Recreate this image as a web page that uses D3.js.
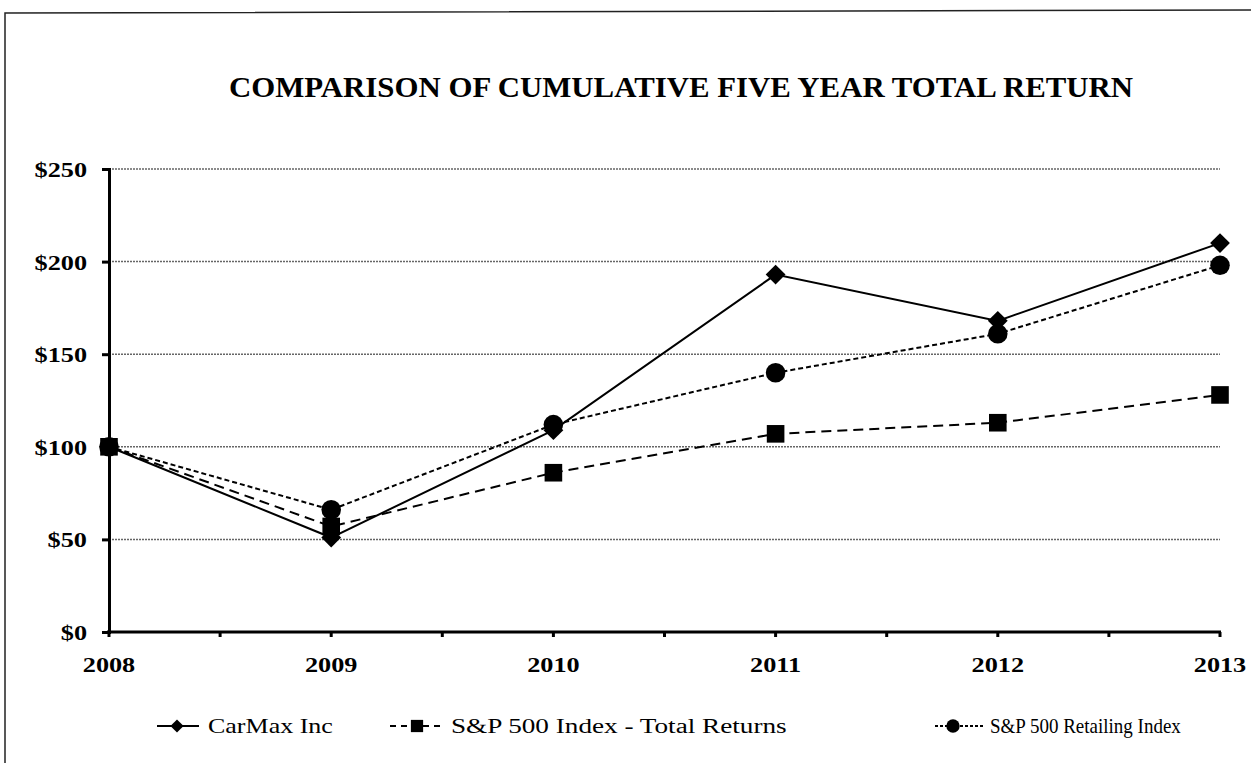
<!DOCTYPE html>
<html>
<head>
<meta charset="utf-8">
<script src="https://cdn.jsdelivr.net/npm/d3@7"></script>
<style>
body { margin: 0; background: #fff; }
svg { display: block; }
</style>
</head>
<body>
<svg width="1251" height="763"></svg>
<script>
var years = ['2008', '2009', '2010', '2011', '2012', '2013'];
var carmax = [100, 51, 109, 193, 168, 210];
var sp500 = [100, 57, 86, 107, 113, 128];
var retailing = [100, 66, 112, 140, 161, 198];
var yTicks = [0, 50, 100, 150, 200, 250];
var seriesNames = ['CarMax Inc', 'S&P 500 Index - Total Returns', 'S&P 500 Retailing Index'];

var svg = d3.select('svg');
var font = "'Liberation Serif', 'Times New Roman', serif";

// outer frame
svg.append('path')
    .attr('d', 'M5,763 L5,13 L1251,10')
    .attr('fill', 'none')
    .attr('stroke', '#222')
    .attr('stroke-width', 1.5);

var scaleX = d3.scalePoint().domain(years).range([109, 1220]);
var scaleY = d3.scaleLinear().domain([0, 250]).range([632, 169]);

svg.append('text')
    .attr('x', 229)
    .attr('y', 97)
    .attr('font-family', font)
    .attr('font-weight', 'bold')
    .attr('font-size', 30)
    .attr('textLength', 904)
    .attr('lengthAdjust', 'spacingAndGlyphs')
    .text('COMPARISON OF CUMULATIVE FIVE YEAR TOTAL RETURN');

// gridlines
svg.append('g')
    .selectAll('line')
    .data(yTicks.slice(1))
    .enter()
    .append('line')
    .attr('x1', 109)
    .attr('x2', 1220)
    .attr('y1', function(d) { return scaleY(d); })
    .attr('y2', function(d) { return scaleY(d); })
    .attr('stroke', '#666')
    .attr('stroke-width', 1.5)
    .attr('stroke-dasharray', '2,1');

// y axis
var yAxis = svg.append('g')
    .attr('transform', 'translate(109,0)')
    .call(d3.axisLeft(scaleY).tickValues(yTicks).tickSize(7).tickFormat(''));
yAxis.select('.domain').attr('stroke', '#000').attr('stroke-width', 3);
yAxis.selectAll('.tick line').attr('stroke', '#000').attr('stroke-width', 3);
svg.append('g')
    .selectAll('text')
    .data(yTicks)
    .enter()
    .append('text')
    .attr('transform', function(d) { return 'translate(87,' + (scaleY(d) + 8) + ') scale(1.25,1)'; })
    .attr('text-anchor', 'end')
    .attr('font-family', font)
    .attr('font-weight', 'bold')
    .attr('font-size', 21)
    .text(function(d) { return '$' + d; });

// x axis, ticks at years and midpoints
var step = scaleX.step();
var xTickPos = [];
years.forEach(function(y, i) {
    xTickPos.push(scaleX(y));
    if (i < years.length - 1) xTickPos.push(scaleX(y) + step / 2);
});
svg.append('line')
    .attr('x1', 107).attr('x2', 1221)
    .attr('y1', 632).attr('y2', 632)
    .attr('stroke', '#000').attr('stroke-width', 3);
svg.append('g')
    .selectAll('line')
    .data(xTickPos)
    .enter()
    .append('line')
    .attr('x1', function(d) { return d; })
    .attr('x2', function(d) { return d; })
    .attr('y1', 632).attr('y2', 637)
    .attr('stroke', '#000').attr('stroke-width', 3);
svg.append('g')
    .selectAll('text')
    .data(years)
    .enter()
    .append('text')
    .attr('transform', function(d) { return 'translate(' + scaleX(d) + ',672) scale(1.25,1)'; })
    .attr('text-anchor', 'middle')
    .attr('font-family', font)
    .attr('font-weight', 'bold')
    .attr('font-size', 21)
    .text(function(d) { return d; });

var line = d3.line()
    .x(function(d, i) { return scaleX(years[i]); })
    .y(function(d) { return scaleY(d); });

var styles = [
    { data: carmax, dash: null, legendDash: null, shape: d3.symbolDiamond2, size: 250 },
    { data: sp500, dash: '10,6', legendDash: '6,5', shape: d3.symbolSquare, size: 310 },
    { data: retailing, dash: '5,3', legendDash: '3,2', shape: d3.symbolCircle, size: 300 }
];

styles.forEach(function(s) {
    svg.append('path')
        .datum(s.data)
        .attr('d', line)
        .attr('fill', 'none')
        .attr('stroke', '#000')
        .attr('stroke-width', 2)
        .attr('stroke-dasharray', s.dash);
});
styles.forEach(function(s) {
    svg.append('g')
        .selectAll('path')
        .data(s.data)
        .enter()
        .append('path')
        .attr('transform', function(d, i) { return 'translate(' + scaleX(years[i]) + ',' + scaleY(d) + ')'; })
        .attr('d', d3.symbol().type(s.shape).size(s.size))
        .attr('fill', '#000');
});

// legend
var legendX = [157, 390, 935];
var legendW = [42, 50, 50];
var legendMark = [177, 417, 953];
var legendTextX = [208, 451, 990];
var legendStretch = [1.3, 1.36, 0.95];
var legendSize = [110, 150, 140];
seriesNames.forEach(function(name, i) {
    var g = svg.append('g');
    g.append('line')
        .attr('x1', legendX[i]).attr('x2', legendX[i] + legendW[i])
        .attr('y1', 726).attr('y2', 726)
        .attr('stroke', '#000').attr('stroke-width', 2)
        .attr('stroke-dasharray', styles[i].legendDash);
    g.append('path')
        .attr('transform', 'translate(' + legendMark[i] + ',726)')
        .attr('d', d3.symbol().type(styles[i].shape).size(legendSize[i]))
        .attr('fill', '#000');
    g.append('text')
        .attr('transform', 'translate(' + legendTextX[i] + ',733) scale(' + legendStretch[i] + ',1)')
        .attr('font-family', font)
        .attr('font-size', 20)
        .text(name);
});
</script>
</body>
</html>
